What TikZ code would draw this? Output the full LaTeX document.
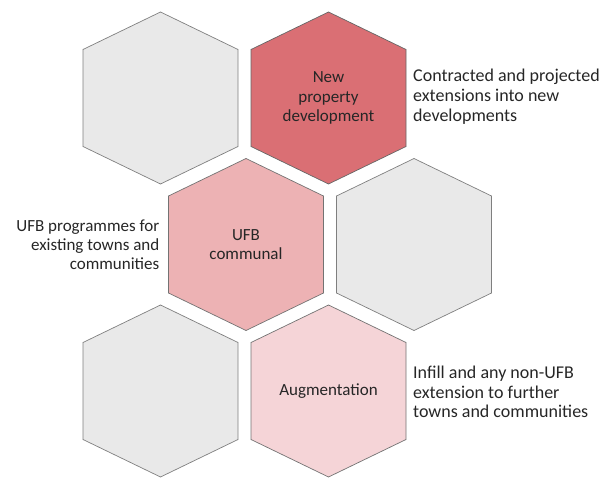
\documentclass[tikz,border=0pt]{standalone}
\usepackage{fontspec}
\setmainfont{Carlito}
\usetikzlibrary{positioning}

\definecolor{hexgrey}{HTML}{E9E9E9}
\definecolor{hexred}{HTML}{DA6F74}
\definecolor{hexpink}{HTML}{EDB2B4}
\definecolor{hexlight}{HTML}{F5D4D7}
\definecolor{rimgrey}{HTML}{7F7F7F}
\definecolor{inkgrey}{HTML}{262626}

\begin{document}
\begin{tikzpicture}[x=1pt,y=-1pt,
    hexa/.style={draw=rimgrey, line width=0.7pt},
    inner/.style={align=center, text=inkgrey, font=\fontsize{17}{19.5}\selectfont},
    outer/.style={text=inkgrey, font=\fontsize{18}{19.8}\selectfont, inner sep=0pt}]

      \useasboundingbox (0,0) rectangle (604,478);

      % top row
      \filldraw[hexa, fill=hexgrey, shift={(160.5,98)}] (0,-86) -- (77.5,-48.5) -- (77.5,48.5) -- (0,86) -- (-77.5,48.5) -- (-77.5,-48.5) -- cycle;
      \filldraw[hexa, fill=hexred, draw=black!60, shift={(328.5,98)}] (0,-86) -- (77.5,-48.5) -- (77.5,48.5) -- (0,86) -- (-77.5,48.5) -- (-77.5,-48.5) -- cycle;

      % middle row
      \filldraw[hexa, fill=hexpink, draw=black!55, shift={(246,244.5)}] (0,-86) -- (77.5,-48.5) -- (77.5,48.5) -- (0,86) -- (-77.5,48.5) -- (-77.5,-48.5) -- cycle;
      \filldraw[hexa, fill=hexgrey, shift={(414,244.5)}] (0,-86) -- (77.5,-48.5) -- (77.5,48.5) -- (0,86) -- (-77.5,48.5) -- (-77.5,-48.5) -- cycle;

      % bottom row
      \filldraw[hexa, fill=hexgrey, shift={(160.5,391)}] (0,-86) -- (77.5,-48.5) -- (77.5,48.5) -- (0,86) -- (-77.5,48.5) -- (-77.5,-48.5) -- cycle;
      \filldraw[hexa, fill=hexlight, draw=black!55, shift={(328.5,391)}] (0,-86) -- (77.5,-48.5) -- (77.5,48.5) -- (0,86) -- (-77.5,48.5) -- (-77.5,-48.5) -- cycle;

      \node[inner] (newdev) at (328.5,98) {New\\property\\development};
      \node[inner] (communal) at (246,244.5) {UFB\\communal};
      \node[inner] (augment) at (328.5,391) {Augmentation};

      \node[outer, anchor=west, align=left] (newdevtext) at (413,97) {Contracted and projected\\extensions into new\\developments};
      \node[outer, anchor=east, align=right, font=\fontsize{17}{19}\selectfont] (communaltext) at (159.5,245) {UFB programmes for\\existing towns and\\communities};
      \node[outer, anchor=west, align=left] (augmenttext) at (413,392) {Infill and any non-UFB\\extension to further\\towns and communities};

    \end{tikzpicture}
\end{document}
